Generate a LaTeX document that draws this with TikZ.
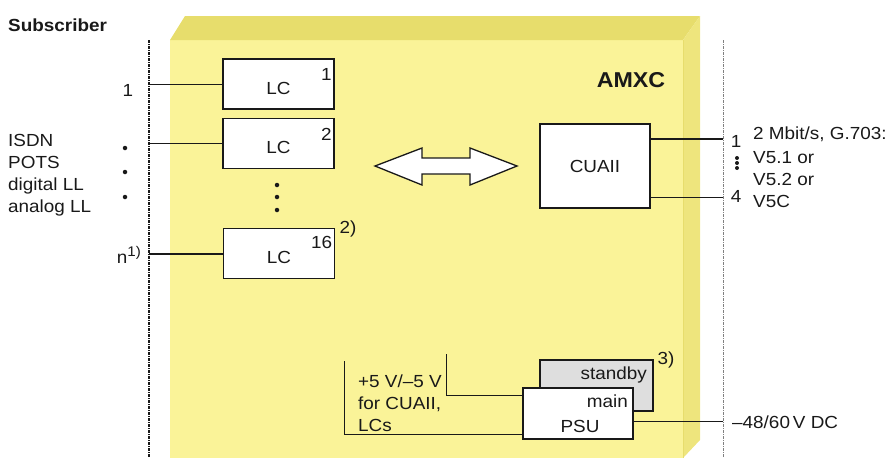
\documentclass[tikz,border=0pt]{standalone}
\usepackage{fontspec}
\setmainfont[FakeStretch=1.08]{Liberation Sans}
\usepackage{xcolor}
\definecolor{amxcfront}{RGB}{250, 243, 152}
\definecolor{amxctop}{RGB}{231, 221, 108}
\definecolor{amxcside}{RGB}{238, 229, 125}
\definecolor{inkgray}{RGB}{25, 25, 25}
\definecolor{standbygray}{RGB}{222, 222, 222}
\usepackage{tikz}
\usetikzlibrary{calc}

\begin{document}
\begin{tikzpicture}[x=1pt, y=-1pt,
    every node/.style={font=\fontsize{17.5}{22}\selectfont, text=inkgray, inner sep=0pt},
    unitbox/.style={draw=inkgray, fill=white, line width=1.8pt},
    lcbox/.style={unitbox, minimum width=111pt, minimum height=50pt, text height=20pt, text depth=0pt},
    bus/.style={line width=1.3pt, dash pattern=on 3pt off 1pt on 1pt off 1pt},
    thinlink/.style={draw=inkgray, line width=0.9pt},
    thicklink/.style={draw=inkgray, line width=2pt},
    busdot/.style={circle, fill=inkgray, minimum size=4.5pt}]
          \useasboundingbox (0,0) rectangle (893,458);
          \fill[amxcfront] (170,40) rectangle (683,458);
          \fill[amxctop] (170,40) -- (185,16) -- (700,16) -- (683,40) -- cycle;
          \fill[amxcside] (683,40) -- (700,16) -- (700,440) -- (683,458) -- cycle;
          \draw[amxctop, line width=0.6pt] (683,40) -- (683,458);
          \draw[bus, inkgray] (149,40) coordinate (subtop) -- (149,458);
          \draw[bus, line width=0.8pt, gray] (723,40) coordinate (exttop) -- (723,458);

          \node[anchor=base west, font=\fontsize{17.5}{22}\selectfont\bfseries] (subscr) at (8,31) {Subscriber};
          \node[anchor=base, font=\fontsize{21.5}{26}\selectfont\bfseries] (amxc) at (631,87) {AMXC};

          \node[lcbox] (lc1) at (278.5,84) {LC};
          \node[lcbox] (lc2) at (278.5,143.5) {LC};
          \node[lcbox] (lc16) at (279,253.5) {LC};
          \node[anchor=north east] (lcno1) at ([shift={(-3,10)}]lc1.north east) {1};
          \node[anchor=north east] (lcno2) at ([shift={(-3,10)}]lc2.north east) {2};
          \node[anchor=north east] (lcno16) at ([shift={(-3,8)}]lc16.north east) {16};
          \node (note2) at (348,229) {2)};
          \draw[thinlink] (lc1.west) -- (lc1.west -| subtop);
          \draw[thinlink] (lc2.west) -- (lc2.west -| subtop);
          \draw[thicklink] (lc16.west) -- (lc16.west -| subtop);
          \foreach \y in {185,197,210}
            \node[busdot] (lcdot\y) at (277,\y) {};

          \node (subno1) at (128,90) {1};
          \node[anchor=base east] (subnon) at (141,263) {n\raisebox{7pt}{\fontsize{14}{14}\selectfont 1)}};
          \foreach \y in {148,172,197}
            \node[busdot] (subdot\y) at (125,\y) {};
          \foreach \txt/\y [count=\i] in {ISDN/146, POTS/168, digital LL/190, analog LL/212}
            \node[anchor=base west] (svc\i) at (8,\y) {\txt};

          \draw[draw=inkgray, fill=white, line width=1.3pt] (375,166) -- (422,148) -- (422,158) -- (470,158) -- (470,148)
            -- (517,166) -- (470,185) -- (470,174) -- (422,174) -- (422,185) -- cycle;

          \node[unitbox, minimum width=110pt, minimum height=84pt] (cuaii) at (595,166) {CUAII};
          \coordinate (cuhi) at ([yshift=27pt]cuaii.east);
          \coordinate (culo) at ([yshift=-31pt]cuaii.east);
          \draw[thicklink] (cuhi) -- (cuhi -| exttop);
          \draw[thinlink] (culo) -- (culo -| exttop);
          \node[anchor=base] (extno1) at (736,147) {1};
          \node[anchor=base] (extno4) at (736,202) {4};
          \foreach \y in {158,163,168}
            \node[busdot, minimum size=4pt] (extdot\y) at (737,\y) {};
          \foreach \txt/\y [count=\i] in {{2 Mbit/s, G.703:}/139, V5.1 or/163, V5.2 or/185, V5C/207}
            \node[anchor=base west] (ext\i) at (753,\y) {\txt};

          \node[unitbox, fill=standbygray, minimum width=113pt, minimum height=51pt] (standby) at (596.5,385.5) {};
          \node[unitbox, minimum width=110pt, minimum height=51pt] (psu) at (578,413.5) {};
          \node[anchor=base east] (sbtxt) at (647,379) {standby};
          \node[anchor=base east] (maintxt) at (628,407) {main};
          \node[anchor=base] (psutxt) at (580,432) {PSU};
          \node (note3) at (666,360) {3)};
          \coordinate (feedA) at (344,361);
          \coordinate (feedB) at (446,354);
          \draw[thinlink] (feedA) |- ([yshift=-20.5pt]psu.west);
          \draw[thinlink] (feedB) |- ([yshift=18.5pt]psu.west);
          \foreach \txt/\y [count=\i] in {{+5 V/--5 V}/387, {for CUAII,}/409, LCs/431}
            \node[anchor=base west] (feed\i) at (358,\y) {\txt};
          \coordinate (dcin) at (723,421);
          \draw[thinlink] (dcin -| psu.east) -- (dcin);
          \node[anchor=base west] (dctxt) at (732,428) {--48/60\,V DC};
        \end{tikzpicture}
\end{document}
